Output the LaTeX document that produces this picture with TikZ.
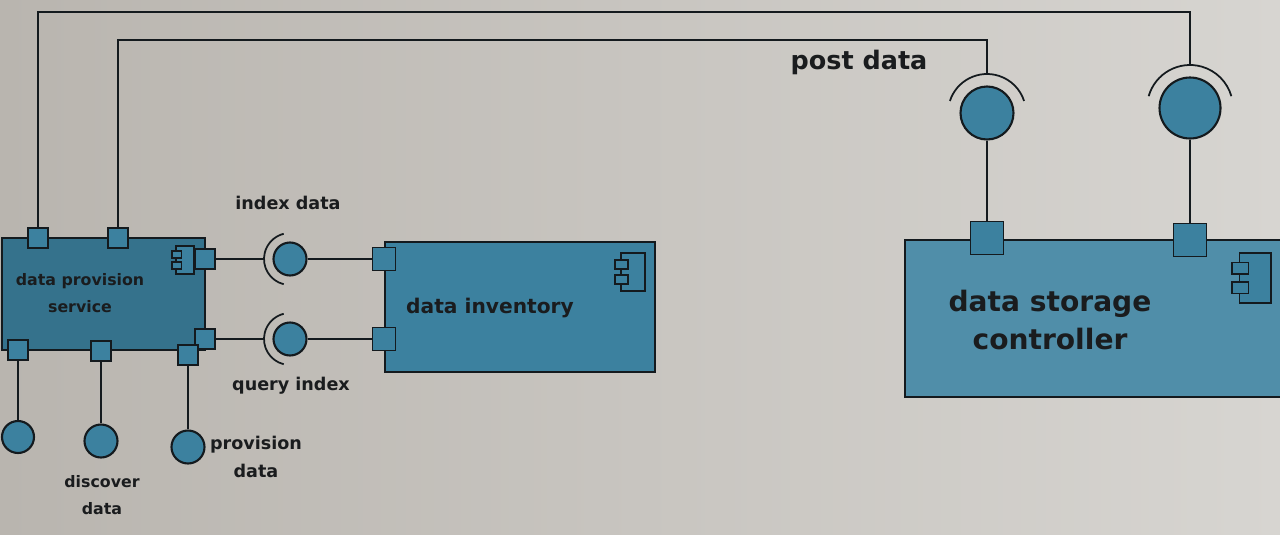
\documentclass[tikz,border=0pt]{standalone}
\usepackage{fontspec}
\setmainfont{DejaVu Sans}
\usetikzlibrary{positioning,calc}
\definecolor{umlfill}{HTML}{3C819F}
\definecolor{umlline}{HTML}{141A1E}
\definecolor{umltext}{HTML}{1A1C1E}
\definecolor{screenleft}{HTML}{B9B5AF}
\definecolor{screenright}{HTML}{D7D5D1}
\tikzstyle{component} = [rectangle, draw=umlline, line width=1.2pt, fill=umlfill, inner sep=0pt]
\tikzstyle{compname} = [text=umltext, align=center, inner sep=0pt]
\tikzstyle{port} = [rectangle, draw=umlline, line width=1pt, fill=umlfill, minimum size=0.4cm, inner sep=0pt]
\tikzstyle{ball} = [circle, draw=umlline, line width=1.2pt, fill=umlfill, minimum size=0.66cm, inner sep=0pt]
\tikzstyle{wire} = [draw=umlline, line width=1pt]
\tikzstyle{iflabel} = [text=umltext, align=center, inner sep=0pt]
\tikzset{compicon/.pic={
  \draw[fill=umlfill, draw=umlline, line width=1pt] (-12,-19) rectangle (12,19);
  \draw[fill=umlfill, draw=umlline, line width=1pt] (-18,-12) rectangle (-5,-3);
  \draw[fill=umlfill, draw=umlline, line width=1pt] (-18,3) rectangle (-5,12);
}}

\begin{document}
\begin{tikzpicture}[x=0.02cm, y=-0.02cm]
% screen
\useasboundingbox (0,0) rectangle (1280,534);
\shade[left color=screenleft, right color=screenright] (0,0) rectangle (1280,534);
\clip (0,0) rectangle (1280,534);

% components
\node[component, fill=umlfill!88!black, minimum width=4.06cm, minimum height=2.24cm] (dps) at (103.5,294) {};
\node[component, minimum width=5.4cm, minimum height=2.6cm] (inv) at (520,307) {};
\node[component, fill=umlfill!90!white, minimum width=7.9cm, minimum height=3.14cm] (dsc) at (1102.5,318.5) {};
\node[compname, font=\bfseries\fontsize{9}{15}\selectfont] (dpsName) at (80,293) {data provision\\service};
\node[compname, font=\bfseries\fontsize{11.5}{16}\selectfont] (invName) at (490,308) {data inventory};
\node[compname, font=\bfseries\fontsize{16}{22}\selectfont] (dscName) at (1050,320) {data storage\\controller};
\pic[scale=0.72] at (185,260) {compicon};
\pic at (633,272) {compicon};
\pic[scale=1.3] at (1255,278) {compicon};

% ports
\node[port] (dpsT1) at (38,238) {};
\node[port] (dpsT2) at (118,238) {};
\node[port] (dpsR1) at (205,259) {};
\node[port] (dpsR2) at (205,339) {};
\node[port] (dpsB1) at (18,350) {};
\node[port] (dpsB2) at (101,351) {};
\node[port] (dpsB3) at (188,355) {};
\node[port, minimum size=0.46cm] (invL1) at (384,259) {};
\node[port, minimum size=0.46cm] (invL2) at (384,339) {};
\node[port, minimum size=0.66cm] (dscT1) at (987,238) {};
\node[port, minimum size=0.66cm] (dscT2) at (1190,240) {};

% provided interfaces
\node[ball, minimum size=0.64cm] (leftBall) at (18,437) {};
\node[ball] (discBall) at (101,441) {};
\node[ball] (provBall) at (188,447) {};
\node[ball] (idxBall) at (290,259) {};
\node[ball] (qryBall) at (290,339) {};
\node[ball, minimum size=1.06cm] (postBall) at (987,113) {};
\node[ball, minimum size=1.22cm] (getBall) at (1190,108) {};

% required interfaces (sockets)
\draw[wire] (idxBall.center) ++(104:26) arc[start angle=104, end angle=256, radius=26];
\draw[wire] (qryBall.center) ++(104:26) arc[start angle=104, end angle=256, radius=26];
\draw[wire] (postBall.center) ++(198:39) arc[start angle=198, end angle=342, radius=39];
\draw[wire] (getBall.center) ++(196:43) arc[start angle=196, end angle=344, radius=43];
\coordinate (idxSock) at ($(idxBall.center)+(-26,0)$);
\coordinate (qrySock) at ($(qryBall.center)+(-26,0)$);
\coordinate (postTop) at ($(postBall.center)+(0,-39)$);
\coordinate (getTop) at ($(getBall.center)+(0,-43)$);
\coordinate (postBend) at ($(postTop)+(0,-34)$);
\coordinate (getBend) at ($(getTop)+(0,-53)$);

% labels
\node[iflabel, font=\bfseries\fontsize{10}{16}\selectfont] (idxLbl) at (288,203) {index data};
\node[iflabel, font=\bfseries\fontsize{10}{16}\selectfont] (qryLbl) at (291,386) {query index};
\node[iflabel, font=\bfseries\fontsize{9}{15}\selectfont] (discLbl) at (102,495) {discover\\data};
\node[iflabel, font=\bfseries\fontsize{10}{16}\selectfont] (provLbl) at (256,457) {provision\\data};
\node[iflabel, font=\bfseries\fontsize{14.5}{18}\selectfont] (postLbl) at (859,62) {post data};

% connectors
\draw[wire] (dpsR1.east) -- (idxSock);
\draw[wire] (idxBall.east) -- (invL1.west);
\draw[wire] (dpsR2.east) -- (qrySock);
\draw[wire] (qryBall.east) -- (invL2.west);
\draw[wire] (dpsB1.south) -- (leftBall.north);
\draw[wire] (dpsB2.south) -- (discBall.north);
\draw[wire] (dpsB3.south) -- (provBall.north);
\draw[wire] (dscT1.north) -- (postBall.south);
\draw[wire] (dscT2.north) -- (getBall.south);
\draw[wire] (dpsT2.north) |- (postBend) -- (postTop);
\draw[wire] (dpsT1.north) |- (getBend) -- (getTop);
\end{tikzpicture}
\end{document}
